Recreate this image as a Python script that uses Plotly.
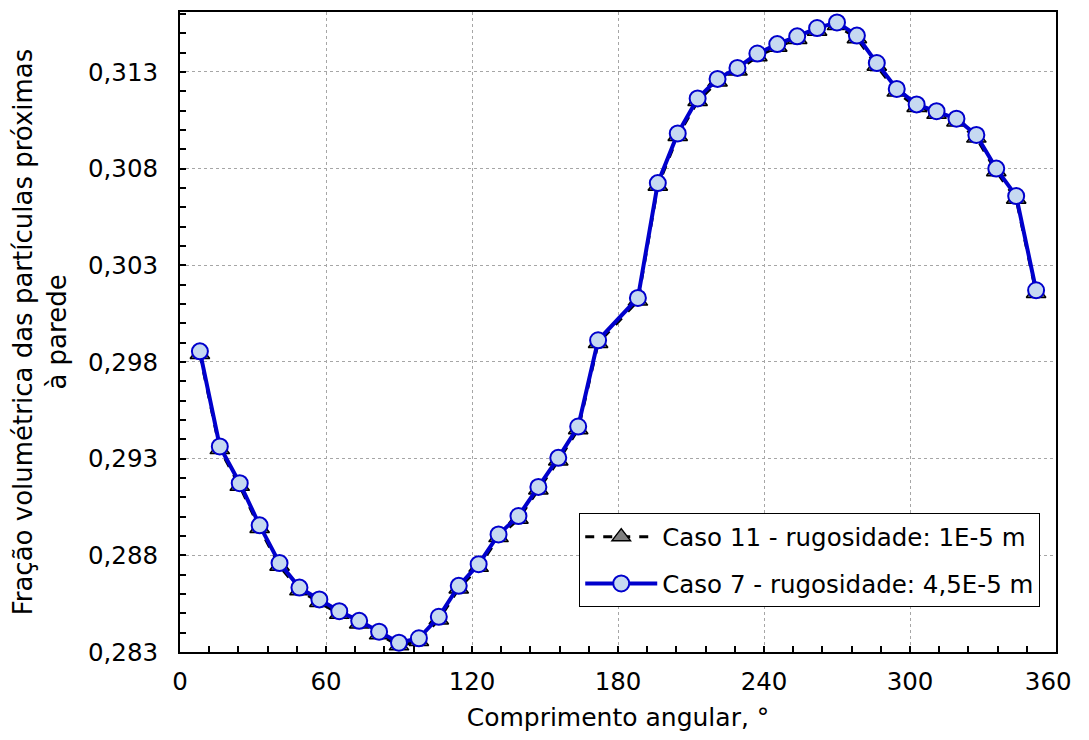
import plotly.graph_objects as go

angulo = [8.18, 16.36, 24.55, 32.73, 40.91, 49.09, 57.27, 65.45, 73.64, 81.82,
          90.00, 98.18, 106.36, 114.55, 122.73, 130.91, 139.09, 147.27, 155.45, 163.64,
          171.82, 188.18, 196.36, 204.55, 212.73, 220.91, 229.09, 237.27, 245.45, 253.64,
          261.82, 270.00, 278.18, 286.36, 294.55, 302.73, 310.91, 319.09, 327.27, 335.45,
          343.64, 351.82]

caso7 = [0.29855, 0.29363, 0.29173, 0.28955, 0.28760, 0.28633, 0.28572, 0.28511, 0.28461, 0.28405,
         0.28348, 0.28371, 0.28482, 0.28642, 0.28754, 0.28908, 0.29003, 0.29154, 0.29304, 0.29466,
         0.29912, 0.30131, 0.30725, 0.30982, 0.31163, 0.31264, 0.31321, 0.31395, 0.31444, 0.31484,
         0.31527, 0.31556, 0.31488, 0.31346, 0.31212, 0.31132, 0.31097, 0.31058, 0.30974, 0.30800,
         0.30658, 0.30171]

caso11 = [0.29840, 0.29348, 0.29158, 0.28940, 0.28745, 0.28618, 0.28557, 0.28496, 0.28446, 0.28390,
          0.28333, 0.28356, 0.28467, 0.28627, 0.28739, 0.28893, 0.28988, 0.29139, 0.29289, 0.29451,
          0.29897, 0.30116, 0.30710, 0.30967, 0.31148, 0.31249, 0.31306, 0.31380, 0.31429, 0.31469,
          0.31512, 0.31541, 0.31473, 0.31331, 0.31197, 0.31117, 0.31082, 0.31043, 0.30959, 0.30785,
          0.30643, 0.30156]

nome11 = "Caso 11 - rugosidade: 1E-5 m"
nome7 = "Caso 7 - rugosidade: 4,5E-5 m"
x_ticks = [0, 60, 120, 180, 240, 300, 360]
x_labels = ["0", "60", "120", "180", "240", "300", "360\u00a0\u00a0"]
y_ticks = [0.283, 0.288, 0.293, 0.298, 0.303, 0.308, 0.313]

FONT = "DejaVu Sans, Arial"

fig = go.Figure()
fig.add_trace(go.Scatter(
    x=angulo, y=caso11, name=nome11, mode="lines+markers", legendgroup="c11",
    line=dict(color="black", width=3, dash="dash"),
    marker=dict(symbol="triangle-up", size=17, color="#808080",
                line=dict(color="black", width=1.5)),
))
fig.add_trace(go.Scatter(
    x=angulo, y=caso7, name=nome7, mode="lines+markers", legendgroup="c7",
    line=dict(color="#0000CC", width=4),
    marker=dict(symbol="circle", size=16, color="#C6D9F1",
                line=dict(color="#0000CC", width=2)),
))

axis_common = dict(
    showline=True, linecolor="black", linewidth=2, mirror=True,
    ticks="inside", ticklen=6, tickcolor="black", tickwidth=1.5,
    showgrid=True, gridcolor="#A6A6A6", griddash="dot", gridwidth=1,
    zeroline=False, ticklabeloverflow="allow",
    tickfont=dict(family=FONT, size=24.5, color="black"),
)

fig.update_xaxes(
    range=[0, 360], tickvals=x_ticks, ticktext=x_labels,
    minor=dict(dtick=12, tick0=0, ticks="inside", ticklen=6, tickcolor="black",
               tickwidth=1.5, showgrid=False),
    ticklabelstandoff=7,
    title_text="Comprimento angular, °", title_standoff=16,
    title_font=dict(family=FONT, size=25, color="black"),
    **axis_common,
)
fig.update_yaxes(
    range=[0.283, 0.3161], tickvals=y_ticks,
    ticktext=[f"{v:.3f}".replace(".", ",") for v in y_ticks],
    minor=dict(dtick=0.001, tick0=0.283, ticks="inside", ticklen=6, tickcolor="black",
               tickwidth=1.5, showgrid=False),
    ticklabelstandoff=15,
    title_text="Fração volumétrica das partículas próximas<br>à parede", title_standoff=14,
    title_font=dict(family=FONT, size=26, color="black"),
    **axis_common,
)

fig.update_layout(
    width=1081, height=724,
    margin=dict(l=172, r=26, t=2, b=80),
    paper_bgcolor="white", plot_bgcolor="white",
    font=dict(family=FONT, color="black"),
    separators=",.",
    legend=dict(
        x=0.982, y=0.07, xanchor="right", yanchor="bottom",
        bgcolor="white", bordercolor="black", borderwidth=1,
        font=dict(family=FONT, size=24.5, color="black"),
        itemwidth=72, tracegroupgap=12, traceorder="grouped",
    ),
    showlegend=True,
)

fig.write_html("out.html")
